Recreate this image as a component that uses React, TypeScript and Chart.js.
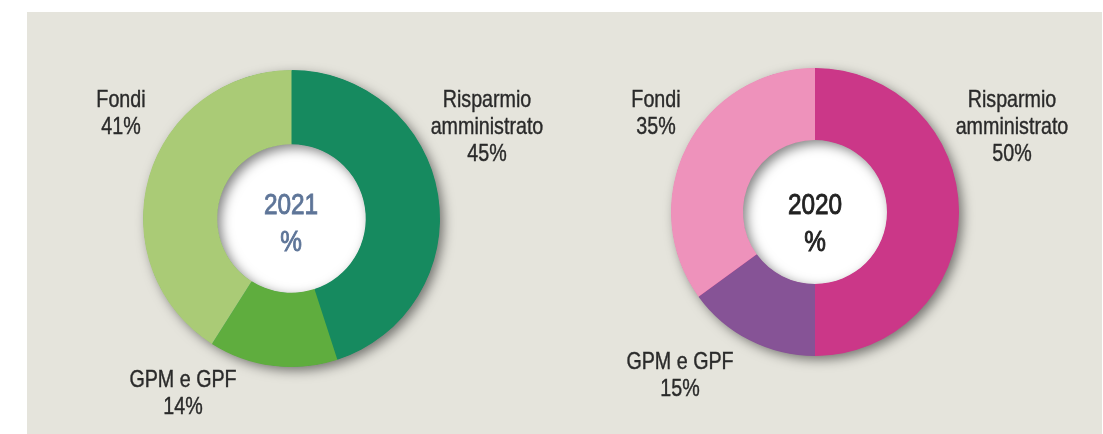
import React, { useEffect, useRef } from "react";
import { Chart, registerables } from "chart.js";

Chart.register(...registerables);

// ---- data ----
const categories = ["Risparmio\namministrato", "GPM e GPF", "Fondi"];
const years = ["2021", "2020"];
const values2021 = [45, 14, 41];
const values2020 = [50, 15, 35];
const unit = "%";

// ---- styles / layout ----
const colors2021 = ["#168A5F", "#5FAD3E", "#AACB76"];
const colors2020 = ["#CB3788", "#865396", "#EE92BB"];
const FONT = "'Liberation Sans', Arial, Helvetica, sans-serif";
const TEXT = "#2A2A2A";
const SQUEEZE = 0.82;

type LabelPos = { x: number; baseline: number };

const charts = [
  {
    year: years[0],
    values: values2021,
    colors: colors2021,
    canvas: { left: 27, top: 12, width: 529, height: 413 },
    radius: 148.5,
    cutout: "50%",
    centerColor: "#5E7598",
    center: { x: 291, baseline: 215 },
    labels: [
      { x: 487, baseline: 107 },
      { x: 183, baseline: 387 },
      { x: 121, baseline: 107 },
    ] as LabelPos[],
  },
  {
    year: years[1],
    values: values2020,
    colors: colors2020,
    canvas: { left: 551, top: 12, width: 528, height: 400 },
    radius: 144,
    cutout: "50%",
    centerColor: "#222222",
    center: { x: 815, baseline: 215 },
    labels: [
      { x: 1012, baseline: 107 },
      { x: 680, baseline: 369 },
      { x: 656, baseline: 107 },
    ] as LabelPos[],
  },
];

function topFor(baseline: number, fs: number, lh: number) {
  return baseline - ((lh - 1.117 * fs) / 2 + 0.905 * fs);
}

const ringShadow = {
  id: "ringShadow",
  beforeDatasetsDraw(chart: any) {
    const meta = chart.getDatasetMeta(0);
    if (!meta || !meta.data.length) return;
    const arc: any = meta.data[0];
    const { x, y, outerRadius, innerRadius } = arc.getProps(
      ["x", "y", "outerRadius", "innerRadius"],
      true
    );
    const ctx = chart.ctx as CanvasRenderingContext2D;
    ctx.save();
    // white hole
    ctx.beginPath();
    ctx.arc(x, y, innerRadius + 2, 0, Math.PI * 2);
    ctx.fillStyle = "#FFFFFF";
    ctx.fill();
    // ring with shadow
    ctx.shadowColor = "rgba(0,0,0,0.5)";
    ctx.shadowBlur = 12;
    ctx.shadowOffsetX = 4;
    ctx.shadowOffsetY = 4;
    ctx.beginPath();
    ctx.arc(x, y, outerRadius - 0.5, 0, Math.PI * 2);
    ctx.arc(x, y, innerRadius + 0.5, 0, Math.PI * 2, true);
    ctx.fillStyle = chart.data.datasets[0].backgroundColor[0];
    ctx.fill();
    ctx.restore();
  },
};

function Donut({ cfg }: { cfg: (typeof charts)[number] }) {
  const ref = useRef<HTMLCanvasElement | null>(null);
  useEffect(() => {
    if (!ref.current) return;
    const chart = new Chart(ref.current, {
      type: "doughnut",
      data: {
        labels: categories,
        datasets: [
          {
            data: cfg.values,
            backgroundColor: cfg.colors,
            borderWidth: 0,
          },
        ],
      },
      options: {
        responsive: false,
        maintainAspectRatio: false,
        animation: false,
        devicePixelRatio: 1,
        radius: cfg.radius,
        cutout: cfg.cutout,
        rotation: 0,
        layout: { padding: 0 },
        plugins: {
          legend: { display: false },
          tooltip: { enabled: false },
        },
      } as any,
      plugins: [ringShadow],
    });
    return () => chart.destroy();
  }, [cfg]);
  return (
    <canvas
      ref={ref}
      width={cfg.canvas.width}
      height={cfg.canvas.height}
      style={{
        position: "absolute",
        left: cfg.canvas.left,
        top: cfg.canvas.top,
        width: cfg.canvas.width,
        height: cfg.canvas.height,
      }}
    />
  );
}

export default function App() {
  const LFS = 24;
  const LLH = 27;
  const CFS = 29;
  const CLH = 37;
  return (
    <div
      style={{
        position: "absolute",
        left: 0,
        top: 0,
        width: 1103,
        height: 434,
        background: "#FFFFFF",
        overflow: "hidden",
        fontFamily: FONT,
      }}
    >
      <div
        style={{
          position: "absolute",
          left: 27,
          top: 12,
          width: 1075,
          height: 422,
          background: "#E5E4DC",
        }}
      />
      {charts.map((cfg) => (
        <React.Fragment key={cfg.year}>
          <Donut cfg={cfg} />
          {categories.map((cat, i) => (
            <div
              key={cat}
              style={{
                position: "absolute",
                left: cfg.labels[i].x - 100,
                top: topFor(cfg.labels[i].baseline, LFS, LLH),
                width: 200,
                textAlign: "center",
                whiteSpace: "pre-line",
                fontSize: LFS,
                lineHeight: LLH + "px",
                color: TEXT,
                WebkitTextStroke: `0.4px ${TEXT}`,
                transform: `scaleX(${SQUEEZE})`,
                transformOrigin: "50% 0",
              }}
            >
              {cat + "\n" + cfg.values[i] + unit}
            </div>
          ))}
          <div
            style={{
              position: "absolute",
              left: cfg.center.x - 60,
              top: topFor(cfg.center.baseline, CFS, CLH),
              width: 120,
              textAlign: "center",
              whiteSpace: "pre-line",
              fontSize: CFS,
              lineHeight: CLH + "px",
              color: cfg.centerColor,
              WebkitTextStroke: `0.9px ${cfg.centerColor}`,
              transform: `scaleX(0.84)`,
              transformOrigin: "50% 0",
            }}
          >
            {cfg.year + "\n" + unit}
          </div>
        </React.Fragment>
      ))}
    </div>
  );
}
